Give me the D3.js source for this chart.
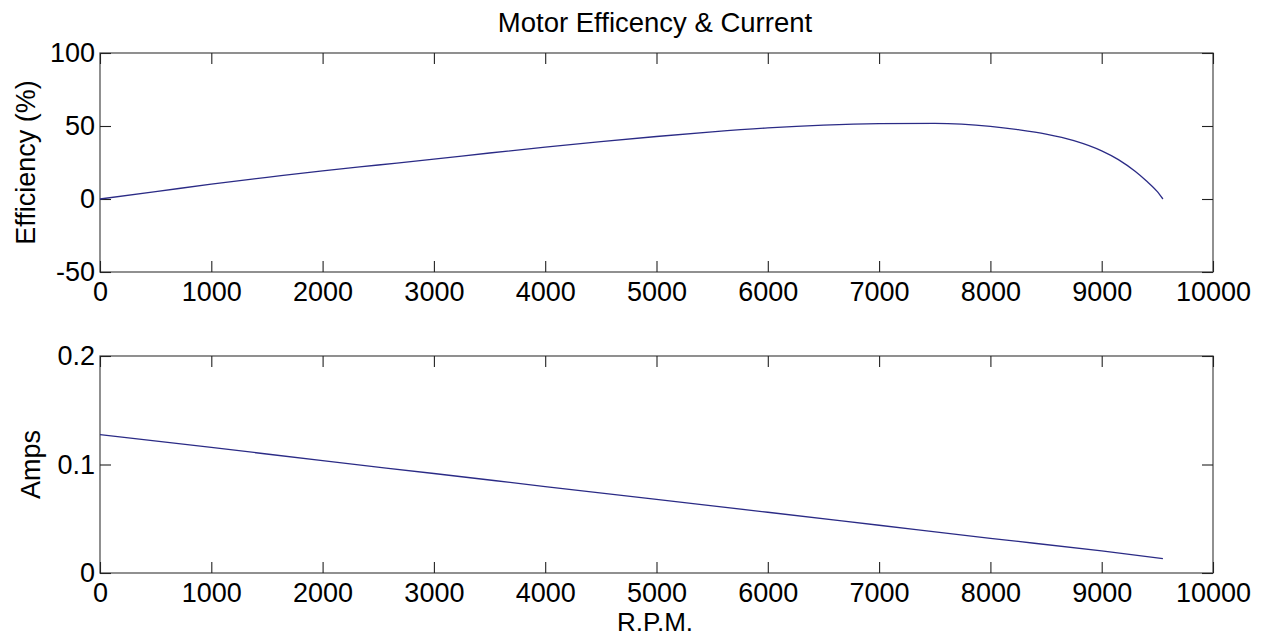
<!DOCTYPE html>
<html>
<head>
<meta charset="utf-8">
<script src="https://cdn.jsdelivr.net/npm/d3@7"></script>
<style>
  body { margin: 0; background: #fff; }
  svg { display: block; font-family: "Liberation Sans", Arial, sans-serif; }
</style>
</head>
<body>
<svg id="chart" width="1266" height="637"></svg>
<script>
// ---- data ----
const titleText = "Motor Efficency & Current";
const xTicks = [0, 1000, 2000, 3000, 4000, 5000, 6000, 7000, 8000, 9000, 10000];
const effTicks = [-50, 0, 50, 100];
const ampTicks = [0, 0.1, 0.2];

const rpmEff = [0, 500, 1000, 1500, 2000, 2500, 3000, 3500, 4000, 4500, 5000, 5500, 6000, 6500, 7000, 7500, 8000, 8250, 8500, 8750, 9000, 9150, 9300, 9400, 9500, 9550];
const efficiency = [0, 5, 10.2, 14.8, 19.3, 23.3, 27.3, 31.5, 35.5, 39.3, 42.8, 46, 48.7, 50.6, 51.6, 51.8, 49.8, 47.5, 44.5, 40, 33, 27, 19, 12.5, 5, 0];

const rpmAmp = [0, 1000, 2000, 3000, 4000, 5000, 6000, 7000, 8000, 9000, 9550];
const amps = [0.1275, 0.1158, 0.1035, 0.0917, 0.0797, 0.0678, 0.056, 0.044, 0.032, 0.0203, 0.0133];

// ---- layout ----
const svg = d3.select("#chart");
const L = 100, R = 1213;
const panels = [
  { top: 53, bottom: 272, domain: [-50, 100], ticks: effTicks, fmt: d => String(d), label: "Efficiency (%)", labelX: 35,
    xs: rpmEff, ys: efficiency },
  { top: 356, bottom: 573, domain: [0, 0.2], ticks: ampTicks, fmt: d => (d === 0 ? "0" : d3.format(".1f")(d)), label: "Amps", labelX: 40,
    xs: rpmAmp, ys: amps }
];
const fs = 27;
const x = d3.scaleLinear().domain([0, 10000]).range([L, R]);

svg.append("text")
  .attr("x", 655).attr("y", 32)
  .attr("text-anchor", "middle")
  .attr("font-size", 27.5)
  .attr("fill", "#000")
  .text(titleText);

panels.forEach((p, i) => {
  const y = d3.scaleLinear().domain(p.domain).range([p.bottom, p.top]);
  const g = svg.append("g");

  // frame
  g.append("rect")
    .attr("x", L).attr("y", p.top)
    .attr("width", R - L).attr("height", p.bottom - p.top)
    .attr("fill", "none").attr("stroke", "#555").attr("stroke-width", 1.3);

  const styleAxis = sel => {
    sel.select(".domain").remove();
    sel.selectAll(".tick line").attr("stroke", "#222").attr("stroke-width", 1.1);
    sel.selectAll("text").attr("font-size", fs).attr("fill", "#000").attr("font-family", "Liberation Sans, Arial, sans-serif");
  };

  g.append("g").attr("transform", `translate(0,${p.bottom})`)
    .call(d3.axisBottom(x).tickValues(xTicks).tickFormat(d => String(d)).tickSize(-11).tickPadding(10))
    .call(styleAxis);
  g.append("g").attr("transform", `translate(0,${p.top})`)
    .call(d3.axisTop(x).tickValues(xTicks).tickFormat("").tickSize(-11))
    .call(styleAxis);
  g.append("g").attr("transform", `translate(${L},0)`)
    .call(d3.axisLeft(y).tickValues(p.ticks).tickFormat(p.fmt).tickSize(-11).tickPadding(5))
    .call(styleAxis);
  g.append("g").attr("transform", `translate(${R},0)`)
    .call(d3.axisRight(y).tickValues(p.ticks).tickFormat("").tickSize(-11))
    .call(styleAxis);

  // y label
  const cy = (p.top + p.bottom) / 2;
  g.append("text")
    .attr("transform", `translate(${p.labelX},${cy}) rotate(-90)`)
    .attr("text-anchor", "middle")
    .attr("font-size", fs)
    .attr("fill", "#000")
    .text(p.label);

  // line
  const line = d3.line().x(d => x(d[0])).y(d => y(d[1])).curve(d3.curveMonotoneX);
  g.append("path")
    .datum(p.xs.map((v, k) => [v, p.ys[k]]))
    .attr("d", line)
    .attr("fill", "none")
    .attr("stroke", "#2b2b86")
    .attr("stroke-width", 1.3);
});

svg.append("text")
  .attr("x", 655).attr("y", 631)
  .attr("text-anchor", "middle")
  .attr("font-size", 26)
  .attr("fill", "#000")
  .text("R.P.M.");
</script>
</body>
</html>
